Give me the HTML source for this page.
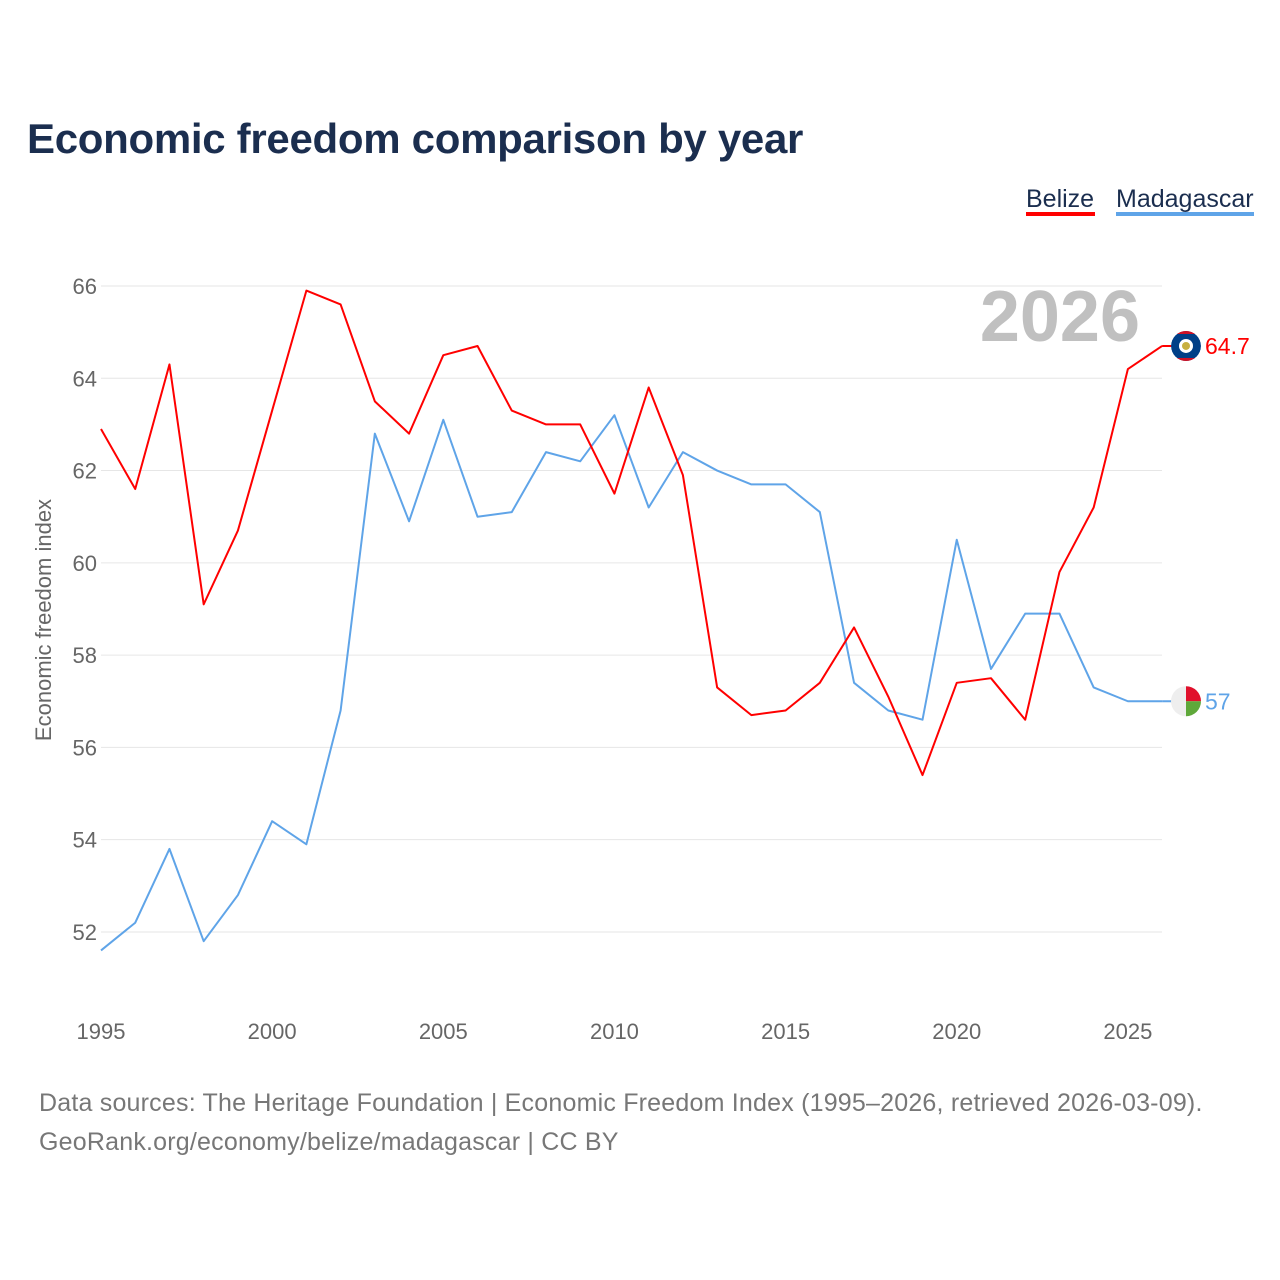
<!DOCTYPE html>
<html><head><meta charset="utf-8">
<style>
body{margin:0;background:#fff;font-family:"Liberation Sans",sans-serif;}
#wrap{position:relative;width:1280px;height:1280px;overflow:hidden;}
</style></head>
<body>
<div id="wrap">
<svg id="chart" width="1280" height="1280">
  <defs><clipPath id="bzc"><circle cx="1186" cy="344" r="15"/></clipPath></defs>
  <text x="27" y="153" font-size="42" font-weight="bold" fill="#1b2e4f" letter-spacing="-0.3">Economic freedom comparison by year</text>
  <g>
    <text x="1026" y="207" font-size="25" fill="#1b2e4f">Belize</text>
    <rect x="1026" y="212" width="69" height="4" fill="#ff0000"/>
  </g>
  <g>
    <text x="1116" y="207" font-size="25" fill="#1b2e4f">Madagascar</text>
    <rect x="1116" y="212" width="138" height="4" fill="#5fa4e8"/>
  </g>
  <text x="1140" y="341" font-size="72" font-weight="bold" fill="#c0c0c0" text-anchor="end">2026</text>
  <text transform="translate(51,620) rotate(-90)" font-size="22" fill="#666" text-anchor="middle">Economic freedom index</text>
  <g id="grid"></g><g id="yt"></g><g id="xt"></g><g id="lines"></g><g id="ends"></g>
  <text x="39" y="1111" font-size="25" fill="#777" letter-spacing="0.2">Data sources: The Heritage Foundation | Economic Freedom Index (1995–2026, retrieved 2026-03-09).</text>
  <text x="39" y="1150" font-size="25" fill="#777" letter-spacing="0.2">GeoRank.org/economy/belize/madagascar | CC BY</text>
</svg>
</div>
<script>
const years=[1995,1996,1997,1998,1999,2000,2001,2002,2003,2004,2005,2006,2007,2008,2009,2010,2011,2012,2013,2014,2015,2016,2017,2018,2019,2020,2021,2022,2023,2024,2025,2026];
const belize=[62.9,61.6,64.3,59.1,60.7,63.3,65.9,65.6,63.5,62.8,64.5,64.7,63.3,63.0,63.0,61.5,63.8,61.9,57.3,56.7,56.8,57.4,58.6,57.1,55.4,57.4,57.5,56.6,59.8,61.2,64.2,64.7];
const madagascar=[51.6,52.2,53.8,51.8,52.8,54.4,53.9,56.8,62.8,60.9,63.1,61.0,61.1,62.4,62.2,63.2,61.2,62.4,62.0,61.7,61.7,61.1,57.4,56.8,56.6,60.5,57.7,58.9,58.9,57.3,57.0,57.0];
const yTicks=[52,54,56,58,60,62,64,66];
const xTicks=[1995,2000,2005,2010,2015,2020,2025];
const NS="http://www.w3.org/2000/svg";
const X=y=>101+(y-1995)*34.23;
const Y=v=>286+(66-v)*46.14;
function mk(t,a,p){const e=document.createElementNS(NS,t);for(const k in a)e.setAttribute(k,a[k]);p.appendChild(e);return e;}
const grid=document.getElementById('grid'),yt=document.getElementById('yt'),xt=document.getElementById('xt');
yTicks.forEach(v=>{
  const l=mk('line',{x1:101,x2:1162,y1:Y(v),y2:Y(v),stroke:'#e6e6e6','stroke-width':1},grid);
  
  
  const t=mk('text',{x:97,y:Y(v)+8,'font-size':22,fill:'#666','text-anchor':'end'},yt);t.textContent=v;
  
  
});
xTicks.forEach(v=>{
  const t=mk('text',{x:X(v),y:1039,'font-size':22,fill:'#666','text-anchor':'middle'},xt);t.textContent=v;
  
  
});
function line(vals,color,name){
  const p=mk('polyline',{points:vals.map((v,i)=>X(years[i])+','+Y(v)).join(' '),fill:'none',stroke:color,'stroke-width':2,'stroke-linejoin':'round'},document.getElementById('lines'));
  
  
}
line(madagascar,'#5fa4e8','madagascar-line');
line(belize,'#ff0000','belize-line');
const ends=document.getElementById('ends');
function end(vals,color,name,flag){
  const v=vals[vals.length-1],cx=1186,cy=Y(v);
  mk('line',{x1:X(2026),x2:cx,y1:cy,y2:cy,stroke:color,'stroke-width':2},ends);
  const g=mk('g',{},ends);
  
  
  if(flag==='bz'){
    document.querySelector('#bzc circle').setAttribute('cy',cy);
    const c=mk('g',{'clip-path':'url(#bzc)'},g);
    mk('circle',{cx:cx,cy:cy,r:15,fill:'#003f87'},c);
    mk('rect',{x:cx-15,y:cy-15,width:30,height:3,fill:'#ce1126'},c);
    mk('rect',{x:cx-15,y:cy+12,width:30,height:3,fill:'#ce1126'},c);
    mk('circle',{cx:cx,cy:cy,r:7,fill:'#fff'},c);
    mk('circle',{cx:cx,cy:cy,r:4,fill:'#c8b040'},c);
  }else{
    mk('path',{d:`M${cx} ${cy-15} A15 15 0 0 1 ${cx+15} ${cy} L${cx} ${cy}Z`,fill:'#e0102c'},g);
    mk('path',{d:`M${cx+15} ${cy} A15 15 0 0 1 ${cx} ${cy+15} L${cx} ${cy}Z`,fill:'#5fa83a'},g);
    mk('path',{d:`M${cx} ${cy+15} A15 15 0 0 1 ${cx} ${cy-15}Z`,fill:'#eeeeee'},g);
  }
  const t=mk('text',{x:1205,y:cy+8,'font-size':23,fill:color},ends);t.textContent=v;
  
  
}
end(belize,'#ff0000','belize','bz');
end(madagascar,'#5fa4e8','madagascar','mg');
</script>
</body></html>
